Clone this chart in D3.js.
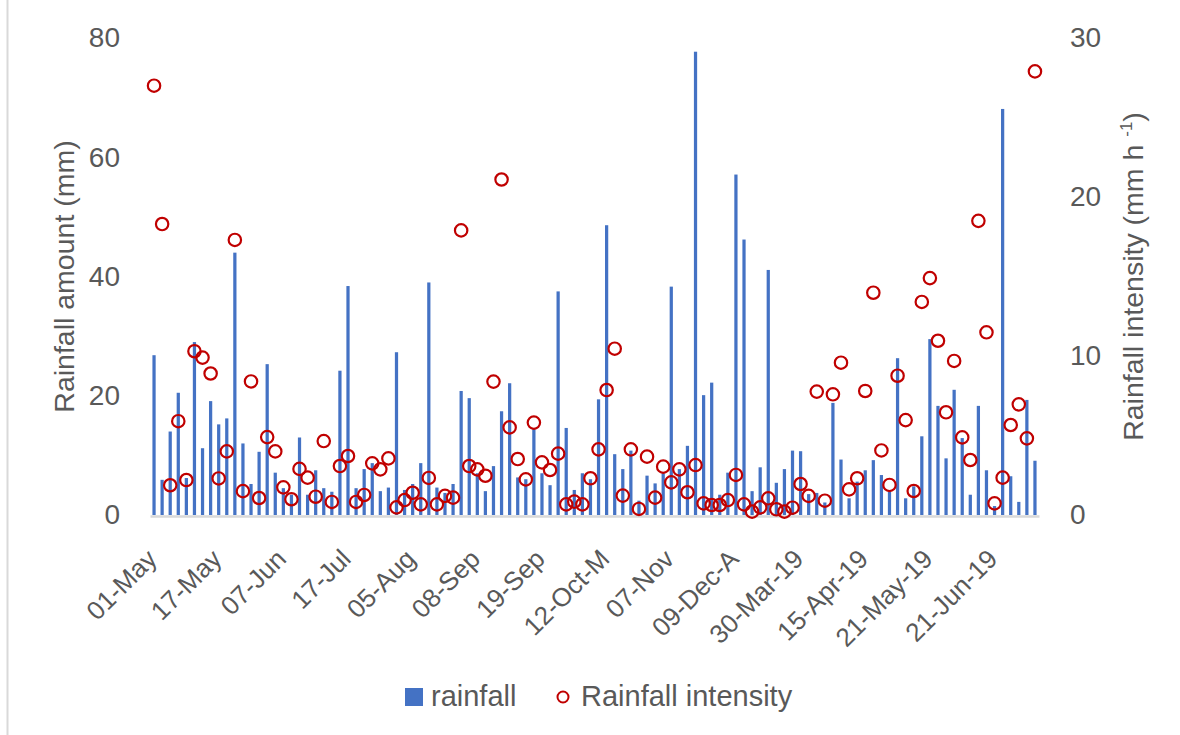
<!DOCTYPE html>
<html>
<head>
<meta charset="utf-8">
<script src="https://cdn.jsdelivr.net/npm/d3@7"></script>
<style>
  html, body { margin: 0; padding: 0; background: #ffffff; }
  svg { display: block; font-family: "Liberation Sans", Arial, sans-serif; }
</style>
</head>
<body>
<svg id="chart" width="1180" height="735"></svg>
<script>
// Daily rainfall amount (mm), one value per rain event
const rainfall = [
  26.8, 5.9, 14.0, 20.5, 6.2, 29.0, 11.2, 19.1, 15.2, 16.2,
  44.0, 12.0, 5.2, 10.6, 25.3, 7.1, 4.5, 3.4, 13.0, 3.4,
  7.5, 4.5, 3.9, 24.2, 38.4, 4.5, 7.7, 8.7, 4.0, 4.6,
  27.3, 4.2, 5.2, 8.7, 39.0, 4.6, 3.7, 5.2, 20.8, 19.6,
  7.0, 4.0, 8.2, 17.4, 22.1, 6.3, 6.0, 14.5, 7.0, 5.0,
  37.5, 14.6, 4.2, 7.0, 6.0, 19.4, 48.6, 10.2, 7.7, 10.8,
  2.4, 6.6, 5.3, 7.0, 38.3, 7.7, 11.6, 77.7, 20.1, 22.2,
  3.4, 7.1, 57.1, 46.2, 4.0, 8.0, 41.1, 5.4, 7.7, 10.8,
  10.7, 3.5, 3.7, 2.1, 18.8, 9.3, 2.8, 5.6, 7.5, 9.2,
  6.7, 3.9, 26.3, 2.8, 4.8, 13.2, 29.5, 18.3, 9.5, 21.0,
  12.9, 3.4, 18.3, 7.5, 1.5, 68.1, 6.5, 2.2, 19.3, 9.1
];

// Rainfall intensity (mm h-1) for the same events
const intensity = [
  27.0, 18.3, 1.87, 5.9, 2.2, 10.3, 9.9, 8.9, 2.3, 4.0,
  17.3, 1.5, 8.4, 1.07, 4.9, 4.0, 1.74, 0.99, 2.9, 2.35,
  1.15, 4.65, 0.82, 3.08, 3.71, 0.82, 1.26, 3.25, 2.87, 3.56,
  0.48, 0.94, 1.4, 0.67, 2.33, 0.67, 1.2, 1.09, 17.9, 3.08,
  2.87, 2.47, 8.39, 21.1, 5.51, 3.52, 2.24, 5.81, 3.31, 2.83,
  3.86, 0.67, 0.84, 0.67, 2.31, 4.13, 7.86, 10.46, 1.22, 4.13,
  0.38, 3.67, 1.09, 3.04, 2.05, 2.87, 1.43, 3.14, 0.73, 0.63,
  0.63, 0.94, 2.52, 0.67, 0.21, 0.48, 1.05, 0.36, 0.21, 0.46,
  1.95, 1.2, 7.76, 0.9, 7.59, 9.58, 1.61, 2.31, 7.8, 13.98,
  4.06, 1.89, 8.76, 5.97, 1.51, 13.4, 14.9, 10.96, 6.46, 9.69,
  4.88, 3.46, 18.5, 11.49, 0.73, 2.35, 5.66, 6.96, 4.82, 27.9
];

// Date labels shown on the category axis (every 8th event)
const tickLabels = [
  "01-May", "17-May", "07-Jun", "17-Jul", "05-Aug", "08-Sep", "19-Sep",
  "12-Oct-M", "07-Nov", "09-Dec-A", "30-Mar-19", "15-Apr-19", "21-May-19", "21-Jun-19"
];
const tickStep = 8;

const leftTicks = [0, 20, 40, 60, 80];
const rightTicks = [0, 10, 20, 30];

const textColor = "#595959";
const barColor = "#4472C4";
const dotColor = "#C00000";

const svg = d3.select("#chart");

const plot = { left: 150, right: 1039, top: 38, bottom: 515 };

const events = d3.range(rainfall.length);

const x = d3.scaleBand()
  .domain(events)
  .range([plot.left, plot.right])
  .paddingInner(0.6)
  .paddingOuter(0.3);

const yLeft = d3.scaleLinear().domain([0, 80]).range([plot.bottom, plot.top]);
const yRight = d3.scaleLinear().domain([0, 30]).range([plot.bottom, plot.top]);

// chart frame edge
svg.append("line")
  .attr("x1", 7.5).attr("x2", 7.5)
  .attr("y1", 0).attr("y2", 735)
  .attr("stroke", "#d9d9d9").attr("stroke-width", 2);

// bars: rainfall amount
svg.append("g")
  .selectAll("rect")
  .data(events)
  .join("rect")
  .attr("x", d => x(d))
  .attr("width", x.bandwidth())
  .attr("y", d => yLeft(rainfall[d]))
  .attr("height", d => yLeft(0) - yLeft(rainfall[d]))
  .attr("fill", barColor);

// category axis
const xAxis = d3.axisBottom(x)
  .tickValues(events.filter(i => i % tickStep === 0))
  .tickFormat(i => tickLabels[i / tickStep])
  .tickSize(0)
  .tickSizeOuter(0);

const gx = svg.append("g")
  .attr("transform", `translate(0,${plot.bottom + 1})`)
  .call(xAxis);
gx.select(".domain").attr("stroke", "#d9d9d9").attr("stroke-width", 2.5);
gx.selectAll(".tick text")
  .attr("fill", textColor)
  .attr("font-size", 26)
  .attr("font-family", "Liberation Sans, Arial, sans-serif")
  .attr("text-anchor", "end")
  .attr("dy", "0.35em")
  .attr("transform", "translate(-2,38) rotate(-45)")
  .attr("y", 0);

// intensity markers
svg.append("g")
  .selectAll("circle")
  .data(events)
  .join("circle")
  .attr("cx", d => x(d) + x.bandwidth() / 2)
  .attr("cy", d => yRight(intensity[d]))
  .attr("r", 6.2)
  .attr("fill", "none")
  .attr("stroke", dotColor)
  .attr("stroke-width", 2.2);

// value axes
const gl = svg.append("g")
  .attr("transform", `translate(120,0)`)
  .call(d3.axisLeft(yLeft).tickValues(leftTicks).tickSize(0).tickPadding(0));
gl.select(".domain").remove();
gl.selectAll("text")
  .attr("fill", textColor)
  .attr("font-size", 28)
  .attr("font-family", "Liberation Sans, Arial, sans-serif");

const gr = svg.append("g")
  .attr("transform", `translate(1070,0)`)
  .call(d3.axisRight(yRight).tickValues(rightTicks).tickSize(0).tickPadding(0));
gr.select(".domain").remove();
gr.selectAll("text")
  .attr("fill", textColor)
  .attr("font-size", 28)
  .attr("font-family", "Liberation Sans, Arial, sans-serif");

// axis titles
const midY = (plot.top + plot.bottom) / 2;
svg.append("text")
  .attr("transform", `translate(74,${midY}) rotate(-90)`)
  .attr("text-anchor", "middle")
  .attr("fill", textColor)
  .attr("font-size", 28.5)
  .text("Rainfall amount (mm)");

const rt = svg.append("text")
  .attr("transform", `translate(1143,${midY}) rotate(-90)`)
  .attr("text-anchor", "middle")
  .attr("fill", textColor)
  .attr("font-size", 28.5);
rt.append("tspan").text("Rainfall intensity (mm h ");
rt.append("tspan").attr("font-size", 17).attr("dy", -11).text("-1");
rt.append("tspan").attr("dy", 11).text(")");

// legend
const legend = svg.append("g");
legend.append("rect")
  .attr("x", 405).attr("y", 688).attr("width", 18).attr("height", 18)
  .attr("fill", barColor);
legend.append("text")
  .attr("x", 431).attr("y", 706)
  .attr("fill", textColor).attr("font-size", 29)
  .text("rainfall");
legend.append("circle")
  .attr("cx", 563).attr("cy", 697).attr("r", 5.5)
  .attr("fill", "none").attr("stroke", dotColor).attr("stroke-width", 2);
legend.append("text")
  .attr("x", 581).attr("y", 706)
  .attr("fill", textColor).attr("font-size", 29)
  .text("Rainfall intensity");
</script>
</body>
</html>
